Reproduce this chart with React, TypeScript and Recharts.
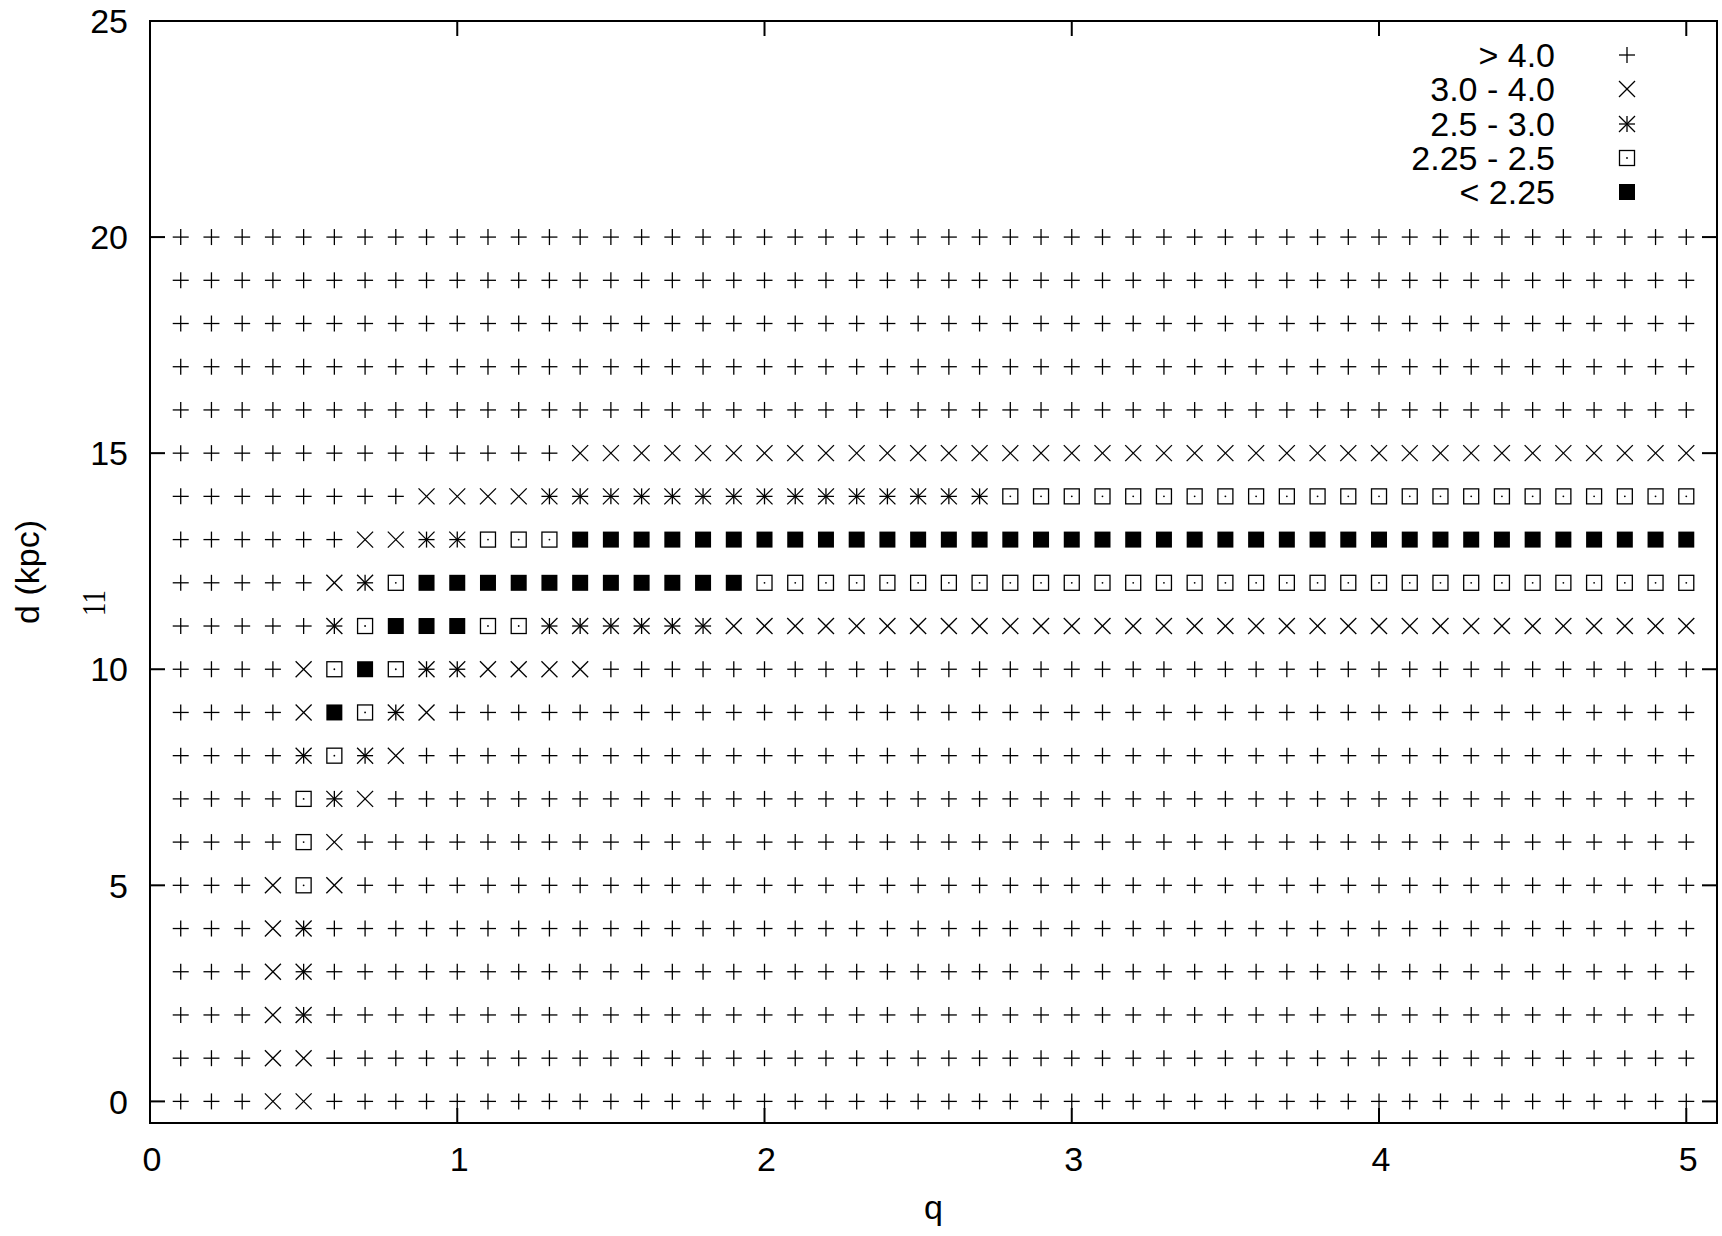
import React from "react";
import { ScatterChart, Scatter, XAxis, YAxis, Legend, ReferenceArea, ReferenceDot } from "recharts";

// grid of the scan: q along x, d (kpc) along y
const qGrid = [
  0.1, 0.2, 0.3, 0.4, 0.5, 0.6, 0.7, 0.8, 0.9, 1.0,
  1.1, 1.2, 1.3, 1.4, 1.5, 1.6, 1.7, 1.8, 1.9, 2.0,
  2.1, 2.2, 2.3, 2.4, 2.5, 2.6, 2.7, 2.8, 2.9, 3.0,
  3.1, 3.2, 3.3, 3.4, 3.5, 3.6, 3.7, 3.8, 3.9, 4.0,
  4.1, 4.2, 4.3, 4.4, 4.5, 4.6, 4.7, 4.8, 4.9, 5.0,
];
const dGrid = [20, 19, 18, 17, 16, 15, 14, 13, 12, 11, 10, 9, 8, 7, 6, 5, 4, 3, 2, 1, 0];

// class of every cell, one row per d (same order as dGrid), one letter per q
// P: > 4.0   X: 3.0 - 4.0   S: 2.5 - 3.0   O: 2.25 - 2.5   F: < 2.25
const cellRows = [
  "PPPPPPPPPP PPPPPPPPPP PPPPPPPPPP PPPPPPPPPP PPPPPPPPPP", // 20
  "PPPPPPPPPP PPPPPPPPPP PPPPPPPPPP PPPPPPPPPP PPPPPPPPPP", // 19
  "PPPPPPPPPP PPPPPPPPPP PPPPPPPPPP PPPPPPPPPP PPPPPPPPPP", // 18
  "PPPPPPPPPP PPPPPPPPPP PPPPPPPPPP PPPPPPPPPP PPPPPPPPPP", // 17
  "PPPPPPPPPP PPPPPPPPPP PPPPPPPPPP PPPPPPPPPP PPPPPPPPPP", // 16
  "PPPPPPPPPP PPPXXXXXXX XXXXXXXXXX XXXXXXXXXX XXXXXXXXXX", // 15
  "PPPPPPPPXX XXSSSSSSSS SSSSSSSOOO OOOOOOOOOO OOOOOOOOOO", // 14
  "PPPPPPXXSS OOOFFFFFFF FFFFFFFFFF FFFFFFFFFF FFFFFFFFFF", // 13
  "PPPPPXSOFF FFFFFFFFFO OOOOOOOOOO OOOOOOOOOO OOOOOOOOOO", // 12
  "PPPPPSOFFF OOSSSSSSXX XXXXXXXXXX XXXXXXXXXX XXXXXXXXXX", // 11
  "PPPPXOFOSS XXXXPPPPPP PPPPPPPPPP PPPPPPPPPP PPPPPPPPPP", // 10
  "PPPPXFOSXP PPPPPPPPPP PPPPPPPPPP PPPPPPPPPP PPPPPPPPPP", // 9
  "PPPPSOSXPP PPPPPPPPPP PPPPPPPPPP PPPPPPPPPP PPPPPPPPPP", // 8
  "PPPPOSXPPP PPPPPPPPPP PPPPPPPPPP PPPPPPPPPP PPPPPPPPPP", // 7
  "PPPPOXPPPP PPPPPPPPPP PPPPPPPPPP PPPPPPPPPP PPPPPPPPPP", // 6
  "PPPXOXPPPP PPPPPPPPPP PPPPPPPPPP PPPPPPPPPP PPPPPPPPPP", // 5
  "PPPXSPPPPP PPPPPPPPPP PPPPPPPPPP PPPPPPPPPP PPPPPPPPPP", // 4
  "PPPXSPPPPP PPPPPPPPPP PPPPPPPPPP PPPPPPPPPP PPPPPPPPPP", // 3
  "PPPXSPPPPP PPPPPPPPPP PPPPPPPPPP PPPPPPPPPP PPPPPPPPPP", // 2
  "PPPXXPPPPP PPPPPPPPPP PPPPPPPPPP PPPPPPPPPP PPPPPPPPPP", // 1
  "PPPXXPPPPP PPPPPPPPPP PPPPPPPPPP PPPPPPPPPP PPPPPPPPPP", // 0
];

const classCodes = ["P", "X", "S", "O", "F"];
const classLabels = ["> 4.0", "3.0 - 4.0", "2.5 - 3.0", "2.25 - 2.5", "< 2.25"];

const xTicks = [0, 1, 2, 3, 4, 5];
const yTicks = [0, 5, 10, 15, 20, 25];
const xDomain = [0, 5.1];
const yDomain = [-0.5, 25];

const points = dGrid.flatMap((d, r) => {
  const row = cellRows[r].replace(/ /g, "");
  return qGrid.map((q, c) => ({ q, d, cls: row[c] }));
});

const FONT = "'Liberation Sans', Arial, Helvetica, sans-serif";
const TICK_LEN = 15;

function Marker({ code, cx, cy }: { code: string; cx: number; cy: number }) {
  const h = 8;
  const st = { stroke: "#000", strokeWidth: 1.3, fill: "none" };
  const plus = (
    <>
      <line x1={cx - h} x2={cx + h} y1={cy} y2={cy} {...st} />
      <line x1={cx} x2={cx} y1={cy - h} y2={cy + h} {...st} />
    </>
  );
  const cross = (
    <>
      <line x1={cx - h} x2={cx + h} y1={cy - h} y2={cy + h} {...st} />
      <line x1={cx - h} x2={cx + h} y1={cy + h} y2={cy - h} {...st} />
    </>
  );
  if (code === "P") return <g>{plus}</g>;
  if (code === "X") return <g>{cross}</g>;
  if (code === "S")
    return (
      <g>
        {plus}
        {cross}
      </g>
    );
  if (code === "O")
    return (
      <g>
        <rect x={cx - 7.5} y={cy - 7.5} width={15} height={15} {...st} />
        <circle cx={cx} cy={cy} r={0.9} fill="#000" />
      </g>
    );
  return <rect x={cx - 8} y={cy - 8} width={16} height={16} fill="#000" />;
}

const tickText = { fontFamily: FONT, fontSize: 34, fill: "#000" };

function BottomTick(p: any) {
  return (
    <g>
      <line x1={p.x} x2={p.x} y1={p.y} y2={p.y - TICK_LEN} stroke="#000" strokeWidth={2} />
      <text x={p.x + 2} y={p.y + 36} dy="0.36em" textAnchor="middle" {...tickText}>
        {p.payload.value}
      </text>
    </g>
  );
}

function LeftTick(p: any) {
  return (
    <g>
      <line x1={p.x} x2={p.x + TICK_LEN} y1={p.y} y2={p.y} stroke="#000" strokeWidth={2} />
      <text x={p.x - 22} y={p.y} dy="0.36em" textAnchor="end" {...tickText}>
        {p.payload.value}
      </text>
    </g>
  );
}

function LegendBox() {
  return (
    <div style={{ fontFamily: FONT, fontSize: 34, color: "#000" }}>
      {classCodes.map((code, i) => (
        <div key={code} style={{ display: "flex", alignItems: "center", height: 34.3, lineHeight: 1 }}>
          <span style={{ width: 175, textAlign: "right", whiteSpace: "nowrap" }}>{classLabels[i]}</span>
          <svg width={20} height={20} style={{ marginLeft: 62, display: "block" }}>
            <Marker code={code} cx={10} cy={10} />
          </svg>
        </div>
      ))}
    </div>
  );
}

const axisLine = { stroke: "#000", strokeWidth: 2, strokeLinecap: "square" as const };

export default function App() {
  return (
    <div>
      <style>{"body{margin:0}"}</style>
      <ScatterChart width={1722} height={1236} margin={{ top: 21, right: 5, bottom: 0, left: 0 }}>
        <XAxis
          dataKey="q"
          type="number"
          domain={xDomain}
          ticks={xTicks}
          interval={0}
          allowDataOverflow
          height={113}
          axisLine={axisLine}
          tickLine={false}
          tickSize={0}
          tickMargin={0}
          tick={<BottomTick />}
          label={(lp: any) => {
            const vb = lp.viewBox || { x: 150, y: 1123, width: 1567 };
            return (
              <text x={vb.x + vb.width / 2} y={vb.y + 96} textAnchor="middle" fontFamily={FONT} fontSize={34} fill="#000">
                q
              </text>
            );
          }}
        />
        <YAxis
          dataKey="d"
          type="number"
          domain={yDomain}
          ticks={yTicks}
          interval={0}
          allowDataOverflow
          width={150}
          axisLine={axisLine}
          tickLine={false}
          tickSize={0}
          tickMargin={0}
          tick={<LeftTick />}
          label={(lp: any) => {
            const vb = lp.viewBox || { x: 0, y: 21, width: 150, height: 1102 };
            const cy = vb.y + vb.height / 2;
            return (
              <g>
                <text
                  x={vb.x + 39}
                  y={cy}
                  transform={`rotate(-90, ${vb.x + 39}, ${cy})`}
                  textAnchor="middle"
                  fontFamily={FONT}
                  fontSize={34}
                  fill="#000"
                >
                  d (kpc)
                </text>
                <text
                  x={vb.x + 105}
                  y={cy + 31}
                  transform={`rotate(-90, ${vb.x + 105}, ${cy + 31})`}
                  textAnchor="middle"
                  fontFamily="'Liberation Serif', 'DejaVu Serif', serif"
                  fontSize={34}
                  textLength={26}
                  lengthAdjust="spacingAndGlyphs"
                  fill="#000"
                >
                  11
                </text>
              </g>
            );
          }}
        />
        {/* closed border box like gnuplot */}
        <ReferenceArea
          x1={xDomain[0]}
          x2={xDomain[1]}
          y1={yDomain[0]}
          y2={yDomain[1]}
          fill="none"
          fillOpacity={0}
          stroke="#000"
          strokeWidth={2}
          ifOverflow="visible"
        />
        {/* mirrored ticks on top and right borders */}
        {xTicks.map((t) => (
          <ReferenceDot
            key={"top" + t}
            x={t}
            y={yDomain[1]}
            ifOverflow="visible"
            shape={(rp: any) => (
              <line x1={rp.cx} x2={rp.cx} y1={rp.cy} y2={rp.cy + TICK_LEN} stroke="#000" strokeWidth={2} />
            )}
          />
        ))}
        {yTicks.map((t) => (
          <ReferenceDot
            key={"right" + t}
            x={xDomain[1]}
            y={t}
            ifOverflow="visible"
            shape={(rp: any) => (
              <line x1={rp.cx} x2={rp.cx - TICK_LEN} y1={rp.cy} y2={rp.cy} stroke="#000" strokeWidth={2} />
            )}
          />
        ))}
        {classCodes.map((code) => (
          <Scatter
            key={code}
            name={code}
            data={points.filter((p) => p.cls === code)}
            isAnimationActive={false}
            legendType="none"
            shape={(sp: any) => <Marker code={code} cx={sp.cx} cy={sp.cy} />}
          />
        ))}
        <Legend
          layout="vertical"
          align="center"
          verticalAlign="middle"
          wrapperStyle={{ left: 1380, top: 38, width: 300 }}
          content={() => <LegendBox />}
        />
      </ScatterChart>
    </div>
  );
}
